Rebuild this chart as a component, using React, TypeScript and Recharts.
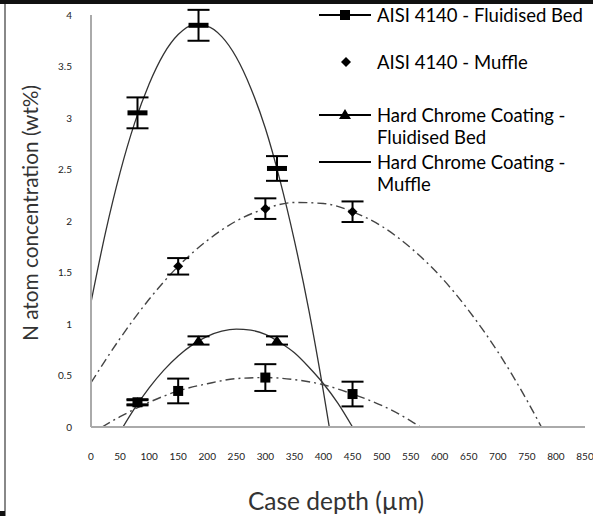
import React from 'react';
import { ComposedChart, Line, Scatter, XAxis, YAxis, ErrorBar, Label } from 'recharts';

// Measured nitrogen content against case depth
const hcDepths = [80, 185, 320];
const hcMuffleN = [3.05, 3.9, 2.51];
const hcMuffleErr = [0.15, 0.15, 0.12];
const hcFluidN = [0.24, 0.84, 0.84];
const hcFluidErr = [0.03, 0.04, 0.04];

const aisiFluidDepths = [80, 150, 300, 450];
const aisiFluidN = [0.24, 0.35, 0.48, 0.32];
const aisiFluidErr = [0.02, 0.12, 0.13, 0.12];

const aisiMuffleDepths = [150, 300, 450];
const aisiMuffleN = [1.56, 2.12, 2.09];
const aisiMuffleErr = [0.08, 0.1, 0.1];

// Polynomial trend curves
const hcMuffleTrendX = [0, 25, 50, 75, 100, 125, 150, 175, 200, 225, 250, 275, 300, 325, 350, 375, 400, 410];
const hcMuffleTrendY = [1.21, 1.89, 2.47, 2.95, 3.33, 3.62, 3.81, 3.9, 3.89, 3.79, 3.59, 3.29, 2.9, 2.4, 1.81, 1.13, 0.34, 0];

const hcFluidTrendX = [55, 75, 100, 125, 150, 175, 200, 225, 250, 275, 300, 325, 350, 375, 400, 425, 450];
const hcFluidTrendY = [0, 0.18, 0.38, 0.55, 0.69, 0.8, 0.88, 0.93, 0.95, 0.94, 0.9, 0.82, 0.72, 0.58, 0.42, 0.23, 0];

const aisiFluidTrendX = [19, 50, 100, 150, 200, 250, 300, 350, 400, 450, 500, 550, 567];
const aisiFluidTrendY = [0, 0.1, 0.24, 0.35, 0.42, 0.47, 0.48, 0.46, 0.41, 0.32, 0.21, 0.06, 0];

const aisiMuffleTrendX = [0, 50, 100, 150, 200, 250, 300, 350, 400, 450, 500, 550, 600, 650, 700, 750, 775];
const aisiMuffleTrendY = [0.43, 0.86, 1.24, 1.56, 1.81, 2.0, 2.12, 2.18, 2.17, 2.09, 1.95, 1.74, 1.47, 1.13, 0.73, 0.26, 0];

const xTicks = [0, 50, 100, 150, 200, 250, 300, 350, 400, 450, 500, 550, 600, 650, 700, 750, 800, 850];
const yTicks = [0, 0.5, 1, 1.5, 2, 2.5, 3, 3.5, 4];

const legendNames = [
  'AISI 4140 - Fluidised Bed',
  'AISI 4140 - Muffle',
  'Hard Chrome Coating - Fluidised Bed',
  'Hard Chrome Coating - Muffle',
];

const pts = (xs: number[], ys: number[], errs: number[]) =>
  xs.map((x, i) => ({ x, y: ys[i], err: errs[i] }));
const curve = (xs: number[], ys: number[]) => xs.map((x, i) => ({ x, y: ys[i] }));

const FONT = 'Lato, "Open Sans", sans-serif';
const DASHDOT = '9 4 2 4';

const SquareMark = (p: any) => <rect x={p.cx - 5} y={p.cy - 5} width={10} height={10} fill="#000" />;
const DiamondMark = (p: any) => (
  <polygon points={`${p.cx},${p.cy - 5} ${p.cx + 5},${p.cy} ${p.cx},${p.cy + 5} ${p.cx - 5},${p.cy}`} fill="#000" />
);
const TriangleMark = (p: any) => (
  <polygon points={`${p.cx},${p.cy - 5} ${p.cx + 6},${p.cy + 4} ${p.cx - 6},${p.cy + 4}`} fill="#000" />
);
const DashMark = (p: any) => <rect x={p.cx - 10} y={p.cy - 2.5} width={20} height={5} fill="#000" />;

const LegendIcon = ({ kind }: { kind: number }) => (
  <svg width={52} height={12} style={{ position: 'absolute', left: 0, top: 5 }}>
    {kind !== 1 && <line x1={0} y1={6} x2={52} y2={6} stroke="#000" strokeWidth={2} />}
    {kind === 0 && <rect x={21} y={1} width={10} height={10} fill="#000" />}
    {kind === 1 && <polygon points="27,1 32,6 27,11 22,6" fill="#000" />}
    {kind === 2 && <polygon points="26,0 32,10 20,10" fill="#000" />}
  </svg>
);

const legendTops = [4, 51, 104, 151];

const App = () => {
  return (
    <div style={{ position: 'absolute', left: 0, top: 0, width: 593, height: 516, background: '#fff', overflow: 'hidden', fontFamily: FONT }}>
      <ComposedChart width={593} height={516} margin={{ top: 15, right: 8, bottom: 0, left: 5 }}>
        <XAxis
          type="number"
          dataKey="x"
          domain={[0, 850]}
          ticks={xTicks}
          interval={0}
          height={89}
          stroke="#aaa"
          strokeWidth={2}
          tickLine={false}
          tickSize={6}
          tickMargin={20}
          tick={{ fill: '#222', fontSize: 10, fontFamily: FONT }}
          allowDataOverflow
        >
          <Label
            content={() => (
              <text x={336} y={500} textAnchor="middle" dominantBaseline="central" fontSize={24.5} fill="#333" fontFamily={FONT}>
                Case depth (µm)
              </text>
            )}
          />
        </XAxis>
        <YAxis
          type="number"
          domain={[0, 4]}
          ticks={yTicks}
          interval={0}
          width={86}
          stroke="#aaa"
          strokeWidth={2}
          tickLine={false}
          tickSize={6}
          tickMargin={13}
          tick={{ fill: '#222', fontSize: 10, fontFamily: FONT }}
          allowDataOverflow
        >
          <Label
            content={() => (
              <text x={29} y={213} transform="rotate(-90 29 213)" textAnchor="middle" dominantBaseline="central" fontSize={20.8} fill="#333" fontFamily={FONT}>
                N atom concentration (wt%)
              </text>
            )}
          />
        </YAxis>

        <Line data={curve(hcMuffleTrendX, hcMuffleTrendY)} dataKey="y" type="monotone" stroke="#333" strokeWidth={1.3} dot={false} isAnimationActive={false} />
        <Line data={curve(hcFluidTrendX, hcFluidTrendY)} dataKey="y" type="monotone" stroke="#333" strokeWidth={1.3} dot={false} isAnimationActive={false} />
        <Line data={curve(aisiFluidTrendX, aisiFluidTrendY)} dataKey="y" type="monotone" stroke="#444" strokeWidth={1.4} strokeDasharray={DASHDOT} dot={false} isAnimationActive={false} />
        <Line data={curve(aisiMuffleTrendX, aisiMuffleTrendY)} dataKey="y" type="monotone" stroke="#444" strokeWidth={1.4} strokeDasharray={DASHDOT} dot={false} isAnimationActive={false} />

        <Scatter data={pts(aisiFluidDepths, aisiFluidN, aisiFluidErr)} dataKey="y" shape={SquareMark} isAnimationActive={false}>
          <ErrorBar dataKey="err" direction="y" width={11} strokeWidth={2} stroke="#000" />
        </Scatter>
        <Scatter data={pts(aisiMuffleDepths, aisiMuffleN, aisiMuffleErr)} dataKey="y" shape={DiamondMark} isAnimationActive={false}>
          <ErrorBar dataKey="err" direction="y" width={11} strokeWidth={2} stroke="#000" />
        </Scatter>
        <Scatter data={pts(hcDepths, hcFluidN, hcFluidErr)} dataKey="y" shape={TriangleMark} isAnimationActive={false}>
          <ErrorBar dataKey="err" direction="y" width={11} strokeWidth={2} stroke="#000" />
        </Scatter>
        <Scatter data={pts(hcDepths, hcMuffleN, hcMuffleErr)} dataKey="y" shape={DashMark} isAnimationActive={false}>
          <ErrorBar dataKey="err" direction="y" width={11} strokeWidth={2} stroke="#000" />
        </Scatter>
      </ComposedChart>

      {/* legend */}
      {legendNames.map((name, i) => (
        <div key={name} style={{ position: 'absolute', left: 319, top: legendTops[i], width: 274, height: 46 }}>
          <LegendIcon kind={i} />
          <div style={{ position: 'absolute', left: 58, top: 0, width: 216, fontSize: 18.5, lineHeight: '22px', color: '#000', whiteSpace: 'normal' }}>{name}</div>
        </div>
      ))}

      {/* frame edges */}
      <div style={{ position: 'absolute', left: 0, top: 0, width: 593, height: 4, background: '#111' }} />
      <div style={{ position: 'absolute', left: 4, top: 4, width: 2, height: 512, background: '#888' }} />
      <div style={{ position: 'absolute', left: 0, top: 511, width: 5, height: 5, background: '#111' }} />
    </div>
  );
};

export default App;
